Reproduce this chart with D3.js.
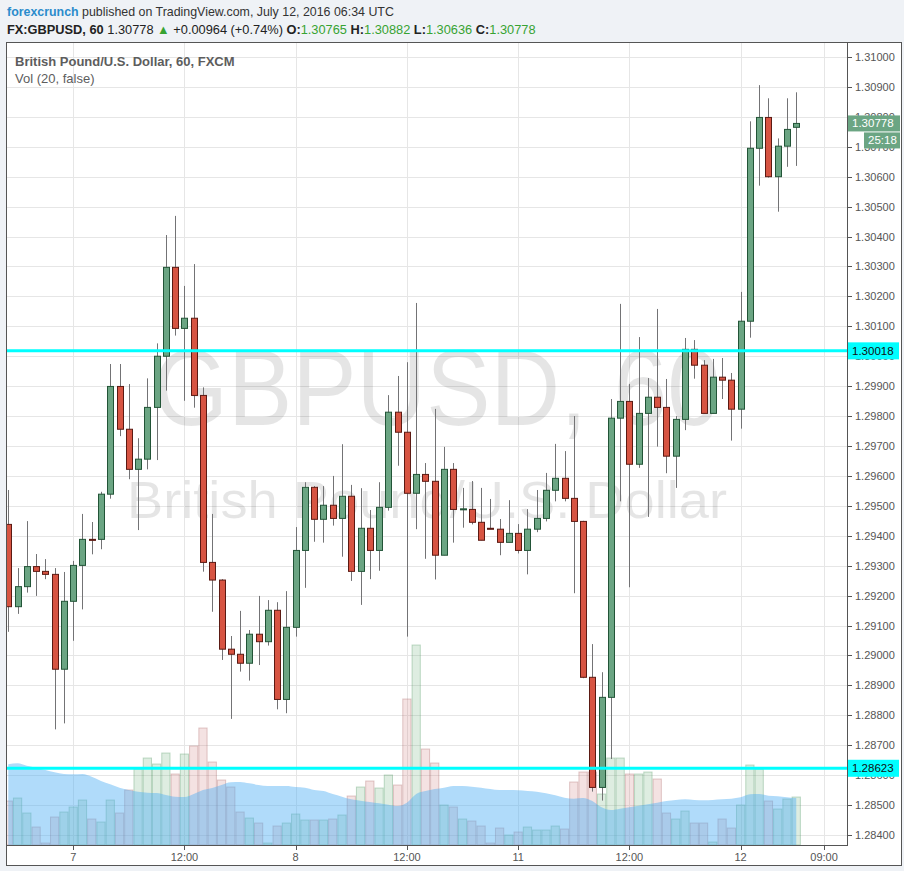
<!DOCTYPE html>
<html><head><meta charset="utf-8">
<script src="https://cdn.jsdelivr.net/npm/d3@7"></script>
<style>body{margin:0;background:#eff2f6;}svg{display:block}</style>
</head><body><svg id="c" width="904" height="871"></svg>
<script>
// ---- DATA ----
const sessions = [["2016-07-06",17,23],["2016-07-07",0,23],["2016-07-08",0,20],["2016-07-10",21,23],["2016-07-11",0,23],["2016-07-12",0,6]];
const open = [1.29438,1.29163,1.29230,1.29297,1.29281,1.29271,1.28954,1.29181,1.29301,1.29388,
1.29388,1.29539,1.29899,1.29756,1.29622,1.29656,1.29829,1.30000,1.30297,1.30093,
1.30127,1.29869,1.29311,1.29252,1.29021,1.29004,1.28974,1.29071,1.29046,1.29151,
1.28853,1.29094,1.29351,1.29562,1.29455,1.29502,1.29458,1.29532,1.29281,1.29425,
1.29351,1.29495,1.29813,1.29746,1.29542,1.29605,1.29582,1.29335,1.29622,1.29488,
1.29488,1.29445,1.29425,1.29422,1.29378,1.29408,1.29351,1.29422,1.29458,1.29552,
1.29592,1.29525,1.29448,1.28927,1.28559,1.28860,1.29793,1.29849,1.29639,1.29809,
1.29863,1.29829,1.29666,1.29789,1.30023,1.29970,1.29809,1.29930,1.29920,1.29823,
1.30117,1.30695,1.30798,1.30600,1.30702,1.30765];
const high = [1.29553,1.29292,1.29449,1.29339,1.29322,1.29292,1.29279,1.29316,1.29473,1.29446,
1.29547,1.29974,1.29974,1.29907,1.29726,1.29926,1.30043,1.30405,1.30469,1.30235,
1.30308,1.29896,1.29473,1.29255,1.29065,1.29149,1.29085,1.29199,1.29185,1.29178,
1.29215,1.29429,1.29579,1.29566,1.29566,1.29600,1.29706,1.29570,1.29559,1.29486,
1.29579,1.29870,1.29934,1.29980,1.30178,1.29643,1.29824,1.29697,1.29643,1.29560,
1.29583,1.29560,1.29523,1.29456,1.29519,1.29439,1.29489,1.29553,1.29610,1.29707,
1.29683,1.29800,1.29450,1.29038,1.28944,1.29857,1.30175,1.29907,1.30064,1.29927,
1.30158,1.29924,1.29800,1.30061,1.30054,1.29987,1.29991,1.29994,1.29944,1.30215,
1.30785,1.30906,1.30862,1.30728,1.30862,1.30882];
const low = [1.29079,1.29139,1.29210,1.29199,1.29255,1.28753,1.28773,1.29049,1.29154,1.29338,
1.29355,1.29524,1.29733,1.29589,1.29419,1.29622,1.29653,1.29885,1.30069,1.29851,
1.29828,1.29280,1.29146,1.28985,1.28788,1.28946,1.28916,1.28968,1.29033,1.28820,
1.28807,1.29063,1.29226,1.29380,1.29377,1.29434,1.29330,1.29249,1.29169,1.29255,
1.29283,1.29484,1.29634,1.29063,1.29422,1.29323,1.29254,1.29335,1.29377,1.29427,
1.29438,1.29385,1.29422,1.29335,1.29378,1.29341,1.29271,1.29412,1.29448,1.29515,
1.29515,1.29208,1.28924,1.28545,1.28515,1.28654,1.29515,1.29228,1.29627,1.29463,
1.29698,1.29609,1.29560,1.29753,1.29925,1.29809,1.29809,1.29857,1.29718,1.29758,
1.30062,1.30570,1.30597,1.30483,1.30633,1.30636];
const close = [1.29163,1.29230,1.29297,1.29281,1.29271,1.28954,1.29181,1.29301,1.29388,1.29386,
1.29539,1.29899,1.29756,1.29622,1.29656,1.29829,1.30000,1.30297,1.30093,1.30127,
1.29869,1.29311,1.29252,1.29021,1.29004,1.28974,1.29071,1.29046,1.29151,1.28853,
1.29094,1.29351,1.29562,1.29455,1.29502,1.29458,1.29532,1.29281,1.29425,1.29351,
1.29495,1.29813,1.29746,1.29542,1.29605,1.29582,1.29335,1.29622,1.29488,1.29490,
1.29445,1.29385,1.29422,1.29378,1.29408,1.29351,1.29422,1.29458,1.29552,1.29592,
1.29525,1.29448,1.28927,1.28559,1.28860,1.29793,1.29849,1.29639,1.29809,1.29863,
1.29829,1.29666,1.29789,1.30023,1.29970,1.29809,1.29930,1.29920,1.29823,1.30117,
1.30695,1.30798,1.30600,1.30702,1.30758,1.30778];
const volume = [44,47,32,18,2,28,33,38,45,26,23,45,32,55,76,87,81,92,71,91,
99,117,83,65,58,33,27,22,2,19,22,31,25,25,25,26,30,49,58,64,
57,70,60,146,200,96,82,40,38,26,24,19,2,17,10,13,18,15,15,19,
16,63,73,73,51,87,87,71,71,73,66,32,26,34,22,22,3,26,17,40,
80,76,44,36,46,48];
const volMA = [80.7,81.7,79.3,77.3,75,72.7,71,70.7,71,68.3,64,60.7,57.3,55,53.3,52.3,52,50,48.3,48,
51,55,57,60,62.7,63,61.7,60,59,59,59,58,57.3,55,54,51,48.3,45.7,44.3,43,
41.7,40.3,39,42.3,51,54,56,57.3,59,59,58.3,57.3,56,55,55,54.7,54,53.3,51.7,49.7,
47.3,46.3,47,44,37.7,35,36.3,37.7,39.3,40.7,42.3,44,45,45.7,45,44.7,45,45.7,46.3,47.7,
50.7,51,49.3,48.7,47.7,47];
const priceTicks = [1.284,1.285,1.286,1.287,1.288,1.289,1.290,1.291,1.292,1.293,1.294,1.295,1.296,1.297,1.298,1.299,1.300,1.301,1.302,1.303,1.304,1.305,1.306,1.307,1.308,1.309,1.310];
const timeTickIdx = [7,19,31,43,55,67,79,88];
const timeTickLabels = ["7","12:00","8","12:00","11","12:00","12","09:00"];
const levels = [1.30018, 1.28623];
const lastPrice = 1.30778, countdown = "25:18";

// categories (hourly bar times)
const times = [];
sessions.forEach(([d,h0,h1]) => { for (let h=h0; h<=h1; h++) times.push(d+" "+String(h).padStart(2,"0")+":00"); });
const bars = times.map((t,i)=>({t,i,o:open[i],h:high[i],l:low[i],c:close[i],v:volume[i],ma:volMA[i]}));

// ---- LAYOUT ----
const W=904,H=871, P={l:7,r:847,t:42,b:845};
const svg=d3.select("#c");
const FONT="Liberation Sans, Arial, sans-serif";
svg.append("rect").attr("width",W).attr("height",H).attr("fill","#eff2f6");
svg.append("rect").attr("x",6.5).attr("y",42.5).attr("width",895).attr("height",823).attr("fill","#fff");

const x=d3.scaleLinear().domain([0,85]).range([8.3,796.25]);
const y=d3.scaleLinear().domain([1.284,1.310]).range([835,57]);
const v=d3.scaleLinear().domain([0,200]).range([845,645]);

svg.append("defs").append("clipPath").attr("id","pc").append("rect")
  .attr("x",P.l).attr("y",P.t).attr("width",P.r-P.l).attr("height",P.b-P.t);
const g=svg.append("g").attr("clip-path","url(#pc)");

// grid
g.selectAll("line.hg").data(priceTicks).join("line").attr("class","hg")
  .attr("x1",P.l).attr("x2",P.r).attr("y1",d=>Math.round(y(d))+0.5).attr("y2",d=>Math.round(y(d))+0.5)
  .attr("stroke","#e6e6e6");
g.selectAll("line.vg").data(timeTickIdx).join("line").attr("class","vg")
  .attr("y1",P.t).attr("y2",P.b).attr("x1",d=>Math.round(x(d))+0.5).attr("x2",d=>Math.round(x(d))+0.5)
  .attr("stroke","#e6e6e6");

// watermark
g.append("text").attr("x",437).attr("y",425).attr("text-anchor","middle")
  .attr("font-family",FONT).attr("font-size",108).attr("textLength",568).attr("lengthAdjust","spacingAndGlyphs")
  .attr("fill","#000").attr("fill-opacity",0.1).text("GBPUSD, 60");
g.append("text").attr("x",427).attr("y",518).attr("text-anchor","middle")
  .attr("font-family",FONT).attr("font-size",52).attr("textLength",600).attr("lengthAdjust","spacingAndGlyphs")
  .attr("fill","#000").attr("fill-opacity",0.1).text("British Pound/U.S. Dollar");

// volume bars
const bwv = x(1)-x(0);
g.selectAll("rect.vol").data(bars).join("rect").attr("class","vol")
  .attr("x",d=>x(d.i)-bwv/2+0.5).attr("width",bwv-1)
  .attr("y",d=>v(d.v)).attr("height",d=>P.b-v(d.v))
  .attr("fill",d=>d.c>=d.o?"rgba(107,175,120,0.22)":"rgba(200,110,110,0.2)")
  .attr("stroke",d=>d.c>=d.o?"rgba(60,140,80,0.3)":"rgba(150,70,70,0.28)");
// volume MA area
const area=d3.area().x(d=>x(d.i)).y0(P.b).y1(d=>v(d.ma)).curve(d3.curveMonotoneX);
g.append("path").datum(bars).attr("d",area).attr("fill","rgba(79,176,245,0.45)");

// candles
const cx=i=>Math.round(x(i));
g.selectAll("line.wick").data(bars).join("line").attr("class","wick")
  .attr("x1",d=>cx(d.i)+0.5).attr("x2",d=>cx(d.i)+0.5)
  .attr("y1",d=>y(d.h)).attr("y2",d=>y(d.l)).attr("stroke","#737375");
g.selectAll("rect.body").data(bars).join("rect").attr("class","body")
  .attr("x",d=>cx(d.i)-2.5).attr("width",6)
  .attr("y",d=>y(Math.max(d.o,d.c))).attr("height",d=>Math.max(1,Math.abs(y(d.o)-y(d.c))))
  .attr("fill",d=>d.c>=d.o?"#6ba583":"#d75442")
  .attr("stroke",d=>d.c>=d.o?"#225437":"#5b1a13");

// horizontal level lines
g.selectAll("line.lvl").data(levels).join("line").attr("class","lvl")
  .attr("x1",P.l).attr("x2",P.r).attr("y1",d=>y(d)).attr("y2",d=>y(d))
  .attr("stroke","#00ffff").attr("stroke-width",3);

// legend in pane
svg.append("text").attr("x",15).attr("y",66).attr("font-family",FONT).attr("font-size",13)
  .attr("font-weight","bold").attr("fill","#5d5d5d").text("British Pound/U.S. Dollar, 60, FXCM");
svg.append("text").attr("x",15).attr("y",83).attr("font-family",FONT).attr("font-size",13)
  .attr("fill","#5d5d5d").text("Vol (20, false)");

// frame lines
const fr=svg.append("g").attr("stroke","#555").attr("fill","none");
fr.append("rect").attr("x",6.5).attr("y",42.5).attr("width",895).attr("height",823);
fr.append("line").attr("x1",847.5).attr("x2",847.5).attr("y1",42).attr("y2",846);
fr.append("line").attr("x1",6).attr("x2",848).attr("y1",845.5).attr("y2",845.5);

// y axis
const ya=svg.append("g");
ya.selectAll("line").data(priceTicks).join("line")
  .attr("x1",848).attr("x2",852).attr("y1",d=>Math.round(y(d))+0.5).attr("y2",d=>Math.round(y(d))+0.5).attr("stroke","#555");
ya.selectAll("text").data(priceTicks).join("text")
  .attr("x",855).attr("y",d=>y(d)+4).attr("font-family",FONT).attr("font-size",11).attr("fill","#555")
  .text(d=>d3.format(".5f")(d));

// x axis
const xa=svg.append("g");
xa.selectAll("line").data(timeTickIdx).join("line")
  .attr("x1",d=>Math.round(x(d))+0.5).attr("x2",d=>Math.round(x(d))+0.5).attr("y1",846).attr("y2",850).attr("stroke","#555");
xa.selectAll("text").data(timeTickIdx).join("text")
  .attr("x",d=>x(d)).attr("y",861).attr("text-anchor","middle").attr("font-family",FONT).attr("font-size",11).attr("fill","#555")
  .text((d,k)=>timeTickLabels[k]);

// price labels
levels.forEach(l=>{
  svg.append("rect").attr("x",848).attr("y",y(l)-8.5).attr("width",51).attr("height",17).attr("fill","#00ffff");
  svg.append("text").attr("x",852).attr("y",y(l)+4).attr("font-family",FONT).attr("font-size",11.5).attr("fill","#111").text(d3.format(".5f")(l));
});
const ly=y(lastPrice);
svg.append("rect").attr("x",848).attr("y",ly-8).attr("width",52).attr("height",16).attr("fill","#6ba583");
svg.append("text").attr("x",852).attr("y",ly+4).attr("font-family",FONT).attr("font-size",11.5).attr("fill","#fff").text(d3.format(".5f")(lastPrice));
svg.append("rect").attr("x",864).attr("y",ly+9).attr("width",36).attr("height",16).attr("fill","#6ba583");
svg.append("text").attr("x",868).attr("y",ly+21).attr("font-family",FONT).attr("font-size",11.5).attr("fill","#fff").text(countdown);

// header
const h1=svg.append("text").attr("x",7).attr("y",16).attr("font-family",FONT).attr("font-size",12.4);
h1.append("tspan").attr("fill","#2b8ccc").attr("font-weight","bold").text("forexcrunch");
h1.append("tspan").attr("fill","#333").text(" published on TradingView.com, July 12, 2016 06:34 UTC");
const h2=svg.append("text").attr("x",7).attr("y",34).attr("font-family",FONT).attr("font-size",12.8).attr("fill","#222");
const GR="#37a332";
[["FX:GBPUSD, 60","#222",true],[" 1.30778 ","#222",false],["\u25B2",GR,false],[" +0.00964 (+0.74%) ","#222",false],
 ["O:","#222",true],["1.30765 ",GR,false],["H:","#222",true],["1.30882 ",GR,false],["L:","#222",true],["1.30636 ",GR,false],
 ["C:","#222",true],["1.30778",GR,false]].forEach(([t,c,b])=>{
  h2.append("tspan").attr("fill",c).attr("font-weight",b?"bold":"normal").attr("xml:space","preserve").style("white-space","pre").text(t);
});
</script></body></html>
